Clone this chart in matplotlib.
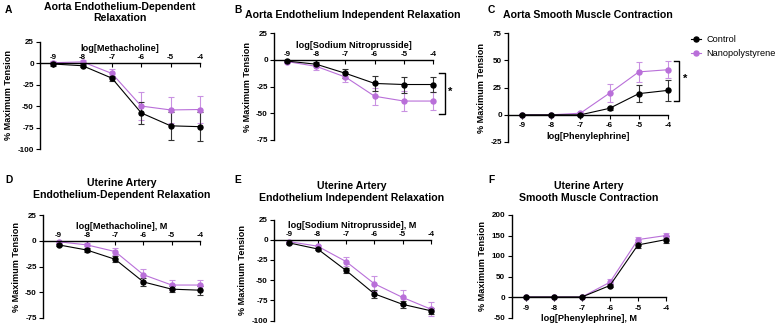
import matplotlib
matplotlib.use("Agg")
import matplotlib.pyplot as plt
from matplotlib.lines import Line2D
import numpy as np

plt.rcParams['font.family'] = ['Liberation Sans', 'DejaVu Sans']
plt.rcParams['axes.unicode_minus'] = False

W, H = 780, 327

log_conc = [-9, -8, -7, -6, -5, -4]
xtick_labels = ['-9', '-8', '-7', '-6', '-5', '-4']

# Panel A: Aorta endothelium-dependent relaxation (Methacholine)
a_ctrl = [-1, -3, -17.5, -58, -73, -74]
a_ctrl_err = [2, 2, 3, 13, 16, 17]
a_nano = [0.5, 1.5, -12, -50, -54.5, -54]
a_nano_err = [2, 2, 5, 16, 15, 16]

# Panel B: Aorta endothelium independent relaxation (SNP)
b_ctrl = [-1, -4, -12.5, -22, -23, -23]
b_ctrl_err = [1, 2, 4, 7, 7.5, 7]
b_nano = [-1.5, -6, -16, -34, -38.5, -38.5]
b_nano_err = [1, 3, 4.5, 8, 9, 8.5]

# Panel C: Aorta smooth muscle contraction (Phenylephrine)
c_ctrl = [0, 0, 0, 6, 19.5, 22.5]
c_ctrl_err = [0.5, 0.5, 1, 1.5, 7.5, 9.5]
c_nano = [0, 0, 1.5, 20, 39.5, 41.5]
c_nano_err = [0.5, 0.5, 1, 8, 9, 8]

# Panel D: Uterine artery endothelium-dependent relaxation
d_ctrl = [-4, -9, -18, -40, -47, -48]
d_ctrl_err = [1, 2, 3, 4, 3, 4.5]
d_nano = [-1, -4, -10.5, -33, -43, -43]
d_nano_err = [1, 1.5, 3, 6, 5, 5]

# Panel E: Uterine artery endothelium independent relaxation
e_ctrl = [-4, -11.5, -38, -67, -80, -88]
e_ctrl_err = [1, 1.5, 3, 5, 4, 4]
e_nano = [-2.5, -8, -27, -54.5, -71.5, -86]
e_nano_err = [1, 2, 6, 9.5, 9, 9]

# Panel F: Uterine artery smooth muscle contraction
f_ctrl = [0, 0, 0, 28, 127, 140]
f_ctrl_err = [0.5, 0.5, 0.5, 4, 7, 8]
f_nano = [0, 0, 0, 36, 140, 150]
f_nano_err = [0.5, 0.5, 0.5, 7, 6, 7]

CTRL = '#000000'
NANO = '#B96FD9'

fig = plt.figure(figsize=(W / 100, H / 100), dpi=100)


def rect(x0, x1, ytop, ybot):
    return [x0 / W, 1 - ybot / H, (x1 - x0) / W, (ybot - ytop) / H]


def series(ax, y, e, color, ecolor):
    cont = ax.errorbar(log_conc, y, yerr=e, fmt='-o', color=color, ecolor=ecolor,
                       ms=3.6, lw=0.8, elinewidth=0.8, capsize=2.0, capthick=0.8)
    line, caps, bars = cont.lines
    line.set_clip_on(False)
    for c in caps:
        c.set_clip_on(False)
    for b in bars:
        b.set_clip_on(False)


def panel(r, xmin, ylim, yticks, xlabel, ctrl, ctrl_e, nano, nano_e, top):
    ax = fig.add_axes(r)
    series(ax, nano, nano_e, NANO, '#C992E2')
    series(ax, ctrl, ctrl_e, CTRL, '#333333')
    ax.set_xlim(xmin, -4)
    ax.set_ylim(*ylim)
    ax.set_yticks(yticks)
    ax.set_yticklabels([str(t) for t in yticks])
    ax.set_xticks(log_conc)
    ax.set_xticklabels(xtick_labels)
    ax.spines['right'].set_visible(False)
    for s in ax.spines.values():
        s.set_linewidth(1.0)
    if top:
        ax.spines['bottom'].set_visible(False)
        ax.spines['top'].set_position(('data', 0))
        ax.xaxis.set_ticks_position('top')
        ax.xaxis.set_label_position('top')
        ax.tick_params(axis='x', direction='in', length=3, pad=1.5, width=0.8)
    else:
        ax.spines['top'].set_visible(False)
        ax.spines['bottom'].set_position(('data', 0))
        ax.tick_params(axis='x', direction='out', length=3, pad=2.5, width=0.8)
    ax.tick_params(axis='y', direction='out', length=3, pad=1.5, width=0.8)
    ax.tick_params(labelsize=5.8)
    for lab in ax.get_xticklabels() + ax.get_yticklabels():
        lab.set_fontweight('bold')
    ax.set_xlabel(xlabel, fontsize=6.6, fontweight='bold', labelpad=2)
    ax.set_ylabel('% Maximum Tension', fontsize=6.6, fontweight='bold', labelpad=3)
    ax.patch.set_visible(False)
    return ax


axA = panel(rect(40, 200, 41.7, 149), -9.45, (-100, 25), [-100, -75, -50, -25, 0, 25],
            'log[Methacholine]', a_ctrl, a_ctrl_err, a_nano, a_nano_err, True)
axB = panel(rect(274, 433, 33.3, 140), -9.45, (-75, 25), [-75, -50, -25, 0, 25],
            'log[Sodium Nitroprusside]', b_ctrl, b_ctrl_err, b_nano, b_nano_err, True)
axC = panel(rect(508, 668, 33.3, 142), -9.48, (-25, 75), [-25, 0, 25, 50, 75],
            'log[Phenylephrine]', c_ctrl, c_ctrl_err, c_nano, c_nano_err, False)
axD = panel(rect(43, 200, 215, 318), -9.55, (-75, 25), [-75, -50, -25, 0, 25],
            'log[Methacholine], M', d_ctrl, d_ctrl_err, d_nano, d_nano_err, True)
axE = panel(rect(274, 431, 219.5, 320.5), -9.54, (-100, 25), [-100, -75, -50, -25, 0, 25],
            'log[Sodium Nitroprusside], M', e_ctrl, e_ctrl_err, e_nano, e_nano_err, True)
axF = panel(rect(511.5, 666, 215, 317.5), -9.51, (-50, 200), [-50, 0, 50, 100, 150, 200],
            'log[Phenylephrine], M', f_ctrl, f_ctrl_err, f_nano, f_nano_err, False)

# significance brackets
def bracket(ax, xv, xh, y0, y1, ys):
    ax.plot([xh, xv, xv, xh], [y0, y0, y1, y1], color='black', lw=1.0, clip_on=False)
    ax.text(xv + 0.12, ys, '*', fontsize=8, fontweight='bold', ha='left', va='center')

bracket(axB, -3.59, -3.78, -12.5, -50.5, -30)
bracket(axC, -3.61, -3.79, 49.5, 13, 33)

# titles
def ftext(x, y, s, **kw):
    fig.text(x / W, 1 - y / H, s, **kw)

tkw = dict(fontsize=7.6, fontweight='bold', ha='center', va='top', linespacing=1.2)
ftext(120, 1.5, 'Aorta Endothelium-Dependent\nRelaxation', **tkw)
ftext(353, 9.5, 'Aorta Endothelium Independent Relaxation', **tkw)
ftext(588, 10.5, 'Aorta Smooth Muscle Contraction', **tkw)
ftext(122, 178.5, 'Uterine Artery\nEndothelium-Dependent Relaxation', **tkw)
ftext(352, 181, 'Uterine Artery\nEndothelium Independent Relaxation', **tkw)
ftext(589, 181, 'Uterine Artery\nSmooth Muscle Contraction', **tkw)

lkw = dict(fontsize=7.4, fontweight='bold', ha='left', va='center')
ftext(5, 10, 'A', **lkw)
ftext(234, 10, 'B', **lkw)
ftext(488, 10, 'C', **lkw)
ftext(5, 180, 'D', **lkw)
ftext(234, 180, 'E', **lkw)
ftext(488, 180, 'F', **lkw)

handles = [Line2D([], [], color=CTRL, marker='o', ms=3.6, lw=0.8),
           Line2D([], [], color=NANO, marker='o', ms=3.6, lw=0.8)]
fig.legend(handles, ['Control', 'Nanopolystyrene'], loc='upper left',
           bbox_to_anchor=(691 / W, 1 - 35 / H), frameon=False, fontsize=6.6,
           handlelength=1.1, handletextpad=0.6, labelspacing=0.55,
           borderpad=0, borderaxespad=0)

fig.savefig('out.png', dpi=100)
